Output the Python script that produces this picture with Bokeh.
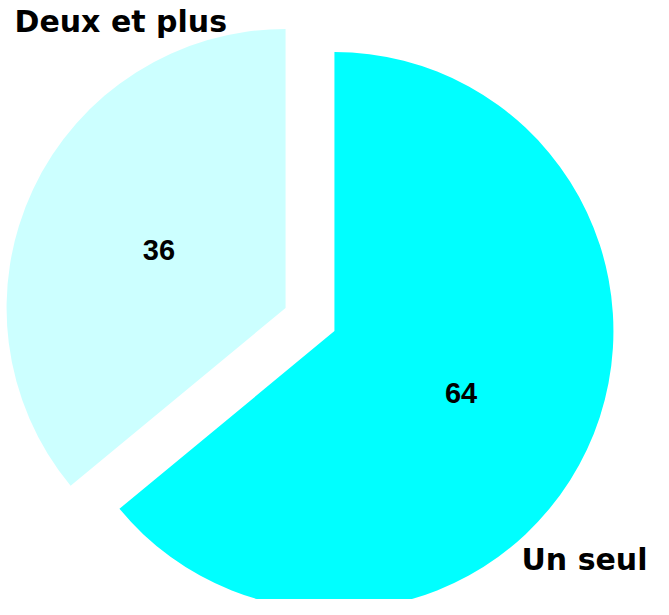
import math
from bokeh.plotting import figure
from bokeh.models import Range1d, ColumnDataSource
from bokeh.core.properties import value
from bokeh.embed import file_html
from bokeh.resources import INLINE

# ---- data ----
categories = ["Un seul", "Deux et plus"]
values = [64, 36]
colors = ["#00FFFF", "#CCFFFF"]
value_labels = ["64", "36"]

# ---- layout ----
W, H = 653, 599
CX, CY = 317.5, 288.0   # pie centre (data units = pixels)
R = 279.0
EXPLODE = 27.0
LABEL_R = 140.0

total = float(sum(values))
start = math.pi / 2  # 12 o'clock, going clockwise
xs, ys, starts, ends, tx, ty = [], [], [], [], [], []
for v in values:
    sweep = 2 * math.pi * v / total
    end = start - sweep
    mid = (start + end) / 2
    cx = CX + EXPLODE * math.cos(mid)
    cy = CY + EXPLODE * math.sin(mid)
    xs.append(cx)
    ys.append(cy)
    starts.append(end)
    ends.append(start)
    tx.append(cx + LABEL_R * math.cos(mid))
    ty.append(cy + LABEL_R * math.sin(mid) - 2)
    start = end

src = ColumnDataSource(dict(x=xs, y=ys, s=starts, e=ends, c=colors,
                            tx=tx, ty=ty, lab=value_labels))

p = figure(width=W, height=H, output_backend="svg", toolbar_location=None,
           x_range=Range1d(8, 8 + W), y_range=Range1d(8, 8 + H),
           min_border=0)
p.axis.visible = False
p.grid.visible = False
p.outline_line_color = None
p.background_fill_color = "white"
p.border_fill_color = "white"

p.wedge(x="x", y="y", radius=R, start_angle="s", end_angle="e",
        fill_color="c", line_color=None, source=src)

p.text(x="tx", y="ty", text="lab", source=src,
       text_font=value("Liberation Sans"), text_font_style="bold",
       text_font_size="29px", text_align="center", text_baseline="middle",
       text_color="black")

# category labels
cat_x = [22, 655]
cat_y = [586, 48]
p.text(x=cat_x[:1], y=cat_y[:1], text=["Deux et plus"],
       text_font=value("DejaVu Sans"), text_font_style="bold",
       text_font_size="30px", text_align="left", text_baseline="middle",
       text_color="black")
p.text(x=cat_x[1:], y=cat_y[1:], text=["Un seul"],
       text_font=value("DejaVu Sans"), text_font_style="bold",
       text_font_size="30px", text_align="right", text_baseline="middle",
       text_color="black")

open("out.html", "w").write(file_html(p, INLINE))
